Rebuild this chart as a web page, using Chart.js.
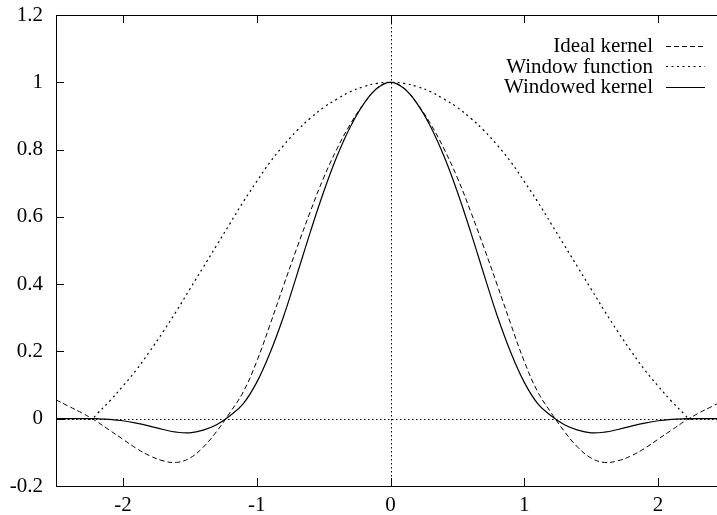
<!DOCTYPE html>
<html>
<head>
<meta charset="utf-8">
<script src="https://cdn.jsdelivr.net/npm/chart.js@4.4.1/dist/chart.umd.min.js"></script>
<style>
  html, body { margin: 0; padding: 0; background: #fff; overflow: hidden; }
  #wrap { width: 725px; height: 515px; }
</style>
</head>
<body>
<div id="wrap"><canvas id="kernelChart" width="725" height="515"></canvas></div>
<script>
// sample positions (x) and the three curves
var xs = [-2.5, -2.4, -2.3, -2.23, -2.2, -2.1, -2.0, -1.9, -1.8, -1.7, -1.6, -1.5, -1.4, -1.3,
          -1.2, -1.1, -1.0, -0.9, -0.8, -0.7, -0.6, -0.5, -0.4, -0.3, -0.2, -0.1, 0,
          0.1, 0.2, 0.3, 0.4, 0.5, 0.6, 0.7, 0.8, 0.9, 1.0, 1.1, 1.2, 1.3, 1.4,
          1.5, 1.6, 1.7, 1.8, 1.9, 2.0, 2.1, 2.2, 2.23, 2.3, 2.4, 2.5];

var idealKernel = [0.056, 0.036, 0.016, 0, -0.007, -0.034, -0.061, -0.088, -0.110, -0.125, -0.130, -0.117, -0.085, -0.038,
                   0.018, 0.080, 0.170, 0.280, 0.395, 0.507, 0.615, 0.716, 0.802, 0.876, 0.936, 0.983, 1,
                   0.983, 0.936, 0.876, 0.802, 0.716, 0.615, 0.507, 0.395, 0.280, 0.170, 0.080, 0.018, -0.038, -0.085,
                   -0.117, -0.130, -0.125, -0.110, -0.088, -0.061, -0.034, -0.007, 0, 0.016, 0.036, 0.056];

var windowFunction = [0, 0, 0, 0, 0.012, 0.052, 0.097, 0.145, 0.200, 0.258, 0.320, 0.385, 0.450, 0.515,
                      0.580, 0.645, 0.705, 0.763, 0.812, 0.856, 0.893, 0.925, 0.950, 0.972, 0.987, 0.997, 1,
                      0.997, 0.987, 0.972, 0.950, 0.925, 0.893, 0.856, 0.812, 0.763, 0.705, 0.645, 0.580, 0.515, 0.450,
                      0.385, 0.320, 0.258, 0.200, 0.145, 0.097, 0.052, 0.012, 0, 0, 0, 0];

var windowedKernel = [0, 0, 0, 0, 0, -0.002, -0.006, -0.013, -0.022, -0.032, -0.040, -0.042, -0.034, -0.018,
                      0.009, 0.045, 0.108, 0.196, 0.303, 0.427, 0.554, 0.674, 0.780, 0.868, 0.936, 0.982, 1,
                      0.982, 0.936, 0.868, 0.780, 0.674, 0.554, 0.427, 0.303, 0.196, 0.108, 0.045, 0.009, -0.018, -0.034,
                      -0.042, -0.040, -0.032, -0.022, -0.013, -0.006, -0.002, 0, 0, 0, 0, 0];

var seriesLabels = ['Ideal kernel', 'Window function', 'Windowed kernel'];

var xTicks = [-2, -1, 0, 1, 2];
var yTicks = [-0.2, 0, 0.2, 0.4, 0.6, 0.8, 1, 1.2];
var yTickLabels = ['-0.2', '0', '0.2', '0.4', '0.6', '0.8', '1', '1.2'];

var FONT = '"Liberation Serif", "DejaVu Serif", serif';

function toPoints(ys) {
  return xs.map(function(x, i) { return { x: x, y: ys[i] }; });
}

// gnuplot look: dotted zero axes, full frame, inward ticks, legend top right
var gnuplotFrame = {
  id: 'gnuplotFrame',
  beforeDatasetsDraw: function(chart) {
    var ctx = chart.ctx, a = chart.chartArea;
    var x0 = Math.round(chart.scales.x.getPixelForValue(0)) + 0.5;
    var y0 = Math.round(chart.scales.y.getPixelForValue(0)) + 0.5;
    ctx.save();
    ctx.strokeStyle = '#000';
    ctx.lineWidth = 1;
    ctx.setLineDash([1.5, 2.5]);
    ctx.beginPath();
    ctx.moveTo(a.left, y0); ctx.lineTo(a.right, y0);
    ctx.moveTo(x0, a.top); ctx.lineTo(x0, a.bottom);
    ctx.stroke();
    ctx.restore();
  },
  afterDatasetsDraw: function(chart) {
    var ctx = chart.ctx, a = chart.chartArea;
    var sx = chart.scales.x, sy = chart.scales.y;
    var tick = 8;
    ctx.save();
    ctx.strokeStyle = '#000';
    ctx.lineWidth = 1;
    ctx.setLineDash([]);
    ctx.strokeRect(Math.round(a.left) + 0.5, Math.round(a.top) + 0.5,
                   Math.round(a.right - a.left), Math.round(a.bottom - a.top));
    ctx.beginPath();
    xTicks.forEach(function(v) {
      var px = Math.round(sx.getPixelForValue(v)) + 0.5;
      ctx.moveTo(px, a.bottom); ctx.lineTo(px, a.bottom - tick);
      ctx.moveTo(px, a.top); ctx.lineTo(px, a.top + tick);
    });
    yTicks.forEach(function(v) {
      var py = Math.round(sy.getPixelForValue(v)) + 0.5;
      ctx.moveTo(a.left, py); ctx.lineTo(a.left + tick, py);
      ctx.moveTo(a.right, py); ctx.lineTo(a.right - tick, py);
    });
    ctx.stroke();

    // key
    ctx.font = '21px ' + FONT;
    ctx.fillStyle = '#000';
    ctx.textAlign = 'right';
    ctx.textBaseline = 'middle';
    chart.data.datasets.forEach(function(ds, i) {
      var y = 45.5 + i * 20.5;
      ctx.fillText(ds.label, 653, y + 1);
      ctx.setLineDash(ds.borderDash || []);
      ctx.lineWidth = ds.borderWidth;
      ctx.beginPath();
      ctx.moveTo(666, Math.round(y) + 0.5);
      ctx.lineTo(705, Math.round(y) + 0.5);
      ctx.stroke();
    });
    ctx.restore();
  }
};

var ctx = document.getElementById('kernelChart');
var kernelChart = new Chart(ctx, {
  type: 'line',
  data: {
    datasets: [{
      label: seriesLabels[0],
      data: toPoints(idealKernel),
      borderColor: '#000',
      borderWidth: 1,
      borderDash: [5, 3]
    }, {
      label: seriesLabels[1],
      data: toPoints(windowFunction),
      borderColor: '#000',
      borderWidth: 1.2,
      borderDash: [2, 3.5]
    }, {
      label: seriesLabels[2],
      data: toPoints(windowedKernel),
      borderColor: '#000',
      borderWidth: 1.2,
      borderDash: []
    }]
  },
  options: {
    responsive: false,
    animation: false,
    events: [],
    layout: { padding: { top: 15, right: 0, left: 0, bottom: 0 } },
    elements: {
      point: { radius: 0 },
      line: { tension: 0.4, fill: false }
    },
    plugins: {
      legend: { display: false },
      tooltip: { enabled: false }
    },
    scales: {
      x: {
        type: 'linear',
        min: -2.5,
        max: 2.5,
        grid: { display: false, drawTicks: false },
        border: { display: false },
        afterBuildTicks: function(scale) {
          scale.ticks = xTicks.map(function(v) { return { value: v }; });
        },
        afterFit: function(scale) {
          scale.height = 29;
          scale.paddingLeft = 0;
          scale.paddingRight = 0;
        },
        ticks: {
          padding: 7,
          color: '#000',
          font: { family: FONT, size: 21 },
          maxRotation: 0,
          callback: function(v) { return String(v); }
        }
      },
      y: {
        type: 'linear',
        min: -0.2,
        max: 1.2,
        grid: { display: false, drawTicks: false },
        border: { display: false },
        afterBuildTicks: function(scale) {
          scale.ticks = yTicks.map(function(v) { return { value: v }; });
        },
        afterFit: function(scale) {
          scale.width = 56;
          scale.paddingTop = 0;
          scale.paddingBottom = 0;
        },
        ticks: {
          padding: 13,
          color: '#000',
          font: { family: FONT, size: 21 },
          callback: function(v) {
            var i = yTicks.indexOf(v);
            return i >= 0 ? yTickLabels[i] : '';
          }
        }
      }
    }
  },
  plugins: [gnuplotFrame]
});
</script>
</body>
</html>
